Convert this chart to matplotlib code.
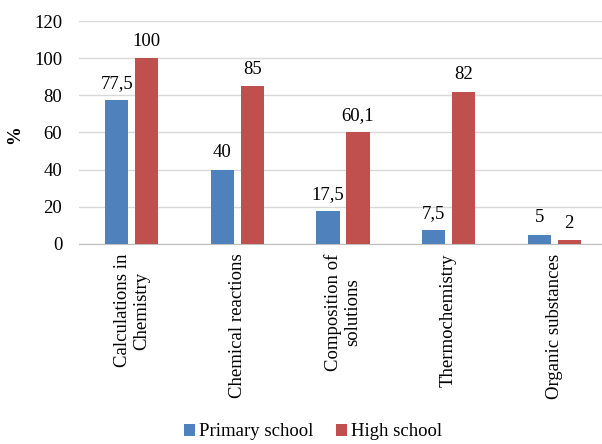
import numpy as np
import matplotlib
matplotlib.use('Agg')
import matplotlib.pyplot as plt

categories = ['Calculations in\nChemistry', 'Chemical reactions',
              'Composition of\nsolutions', 'Thermochemistry', 'Organic substances']
primary = [77.5, 40, 17.5, 7.5, 5]
high = [100, 85, 60.1, 82, 2]
primary_labels = ['77,5', '40', '17,5', '7,5', '5']
high_labels = ['100', '85', '60,1', '82', '2']

plt.rcParams['font.family'] = ['Liberation Serif', 'DejaVu Serif']
plt.rcParams['font.size'] = 13.5

fig = plt.figure(figsize=(6.02, 4.44), dpi=100)
ax = fig.add_axes([79 / 602, 0.4505, 528 / 602, 0.5022])

x = np.arange(len(categories))
w = 0.218
b1 = ax.bar(x - 0.142, primary, w, color='#4F81BD', label='Primary school', zorder=3)
b2 = ax.bar(x + 0.142, high, w, color='#C0504D', label='High school', zorder=3)

for rect, lab in zip(b1, primary_labels):
    ax.text(rect.get_x() + rect.get_width() / 2, rect.get_height() + 4.5, lab,
            ha='center', va='bottom')
for rect, lab in zip(b2, high_labels):
    ax.text(rect.get_x() + rect.get_width() / 2, rect.get_height() + 4.5, lab,
            ha='center', va='bottom')

ax.set_xlim(-0.5, len(categories) - 0.5)
ax.set_ylim(0, 120)
ax.set_yticks(range(0, 121, 20))
ax.yaxis.grid(True, color='#D9D9D9', linewidth=1, zorder=0)
ax.set_xticks(x)
ax.set_xticklabels(categories, rotation=90, va='top', ha='center',
                   multialignment='center', linespacing=1.15)
ax.tick_params(axis='both', length=0)
ax.tick_params(axis='x', pad=7)
ax.tick_params(axis='y', pad=12)
for s in ['top', 'right', 'left']:
    ax.spines[s].set_visible(False)
ax.spines['bottom'].set_color('#BFBFBF')
ax.set_ylabel('%', fontweight='bold', va='center')
ax.yaxis.set_label_coords(-0.121, 0.49)

fig.legend(handles=[b1, b2], loc='lower center', ncol=2, frameon=False,
           bbox_to_anchor=(0.52, -0.03), handlelength=0.6, handleheight=0.6,
           handletextpad=0.2, columnspacing=1.2)

fig.savefig('out.png', dpi=100)
